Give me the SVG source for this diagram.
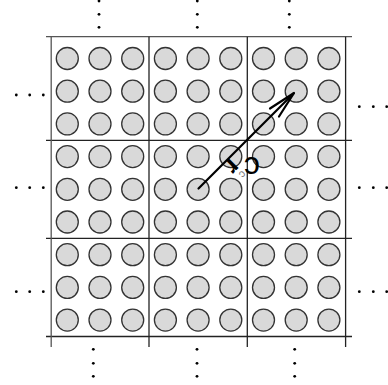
<svg xmlns="http://www.w3.org/2000/svg" xmlns:xlink="http://www.w3.org/1999/xlink" width="388" height="385" viewBox="0 0 388 385">
<style>
.c{fill:#d9d9d9;stroke:#333;stroke-width:1.3}
.g{stroke:#222;stroke-width:1.3;fill:none}
.d{fill:#000}
.a{stroke:#000;stroke-width:2.2;fill:none;stroke-linecap:round}
.t{font-family:"Liberation Sans",sans-serif;fill:#000}
</style>
<defs>
<g id="row"><circle class="c" cx="67.3" cy="0" r="11"/><circle class="c" cx="100" cy="0" r="11"/><circle class="c" cx="132.7" cy="0" r="11"/><circle class="c" cx="165.4" cy="0" r="11"/><circle class="c" cx="198.1" cy="0" r="11"/><circle class="c" cx="230.8" cy="0" r="11"/><circle class="c" cx="263.5" cy="0" r="11"/><circle class="c" cx="296.2" cy="0" r="11"/><circle class="c" cx="328.9" cy="0" r="11"/></g>
</defs>
<rect width="388" height="385" fill="#fff"/>
<g id="grid">
<line class="g" x1="46" y1="36.7" x2="352" y2="36.7" style="stroke:#555"/>
<line class="g" x1="46" y1="140.3" x2="352" y2="140.3"/>
<line class="g" x1="46" y1="238.3" x2="352" y2="238.3"/>
<line class="g" x1="46" y1="336.5" x2="352" y2="336.5"/>
<line class="g" x1="51.2" y1="36.7" x2="51.2" y2="347" style="stroke:#555"/>
<line class="g" x1="149" y1="36.7" x2="149" y2="347"/>
<line class="g" x1="247.3" y1="36.7" x2="247.3" y2="347"/>
<line class="g" x1="345.6" y1="36.7" x2="345.6" y2="347"/>
</g>
<g id="particles">
<use xlink:href="#row" y="58.5"/>
<use xlink:href="#row" y="91.2"/>
<use xlink:href="#row" y="123.9"/>
<use xlink:href="#row" y="156.6"/>
<use xlink:href="#row" y="189.3"/>
<use xlink:href="#row" y="222"/>
<use xlink:href="#row" y="254.7"/>
<use xlink:href="#row" y="287.4"/>
<use xlink:href="#row" y="320.1"/>
</g>
<g id="dots">
<circle class="d" cx="99" cy="1" r="1.4"/><circle class="d" cx="99" cy="14.3" r="1.4"/><circle class="d" cx="99" cy="27.3" r="1.4"/>
<circle class="d" cx="197.3" cy="1" r="1.4"/><circle class="d" cx="197.3" cy="14.3" r="1.4"/><circle class="d" cx="197.3" cy="27.3" r="1.4"/>
<circle class="d" cx="289.3" cy="1" r="1.4"/><circle class="d" cx="289.3" cy="14.3" r="1.4"/><circle class="d" cx="289.3" cy="27.3" r="1.4"/>
<circle class="d" cx="93.3" cy="349.3" r="1.4"/><circle class="d" cx="93.3" cy="363.3" r="1.4"/><circle class="d" cx="93.3" cy="376.3" r="1.4"/>
<circle class="d" cx="197" cy="349.3" r="1.4"/><circle class="d" cx="197" cy="363.3" r="1.4"/><circle class="d" cx="197" cy="376.3" r="1.4"/>
<circle class="d" cx="294.7" cy="349.3" r="1.4"/><circle class="d" cx="294.7" cy="363.3" r="1.4"/><circle class="d" cx="294.7" cy="376.3" r="1.4"/>
<circle class="d" cx="16.3" cy="95" r="1.4"/><circle class="d" cx="29.7" cy="95" r="1.4"/><circle class="d" cx="43.3" cy="95" r="1.4"/>
<circle class="d" cx="16.3" cy="187.7" r="1.4"/><circle class="d" cx="29.7" cy="187.7" r="1.4"/><circle class="d" cx="43.3" cy="187.7" r="1.4"/>
<circle class="d" cx="16.3" cy="291.7" r="1.4"/><circle class="d" cx="29.7" cy="291.7" r="1.4"/><circle class="d" cx="43.3" cy="291.7" r="1.4"/>
<circle class="d" cx="359.3" cy="106.7" r="1.4"/><circle class="d" cx="373.3" cy="106.7" r="1.4"/><circle class="d" cx="386.7" cy="106.7" r="1.4"/>
<circle class="d" cx="359.3" cy="187.7" r="1.4"/><circle class="d" cx="373.3" cy="187.7" r="1.4"/><circle class="d" cx="386.7" cy="187.7" r="1.4"/>
<circle class="d" cx="359.3" cy="291.7" r="1.4"/><circle class="d" cx="373.3" cy="291.7" r="1.4"/><circle class="d" cx="386.7" cy="291.7" r="1.4"/>
</g>
<g id="connectors">
<line class="a" x1="198.5" y1="188.5" x2="294" y2="93"/>
<path class="a" d="M270 108.5 L294 93 L279 116.5"/>
</g>
<g id="label">
<text class="t" x="0" y="0" font-size="32" transform="translate(260,157) rotate(180)">c</text>
<text class="t" x="0" y="0" font-size="26" font-weight="bold" transform="translate(230,157) rotate(135)">r</text>
<text class="t" x="0" y="0" font-size="11" style="fill:#777" transform="translate(242,170) rotate(135)">c</text>
</g>
</svg>
